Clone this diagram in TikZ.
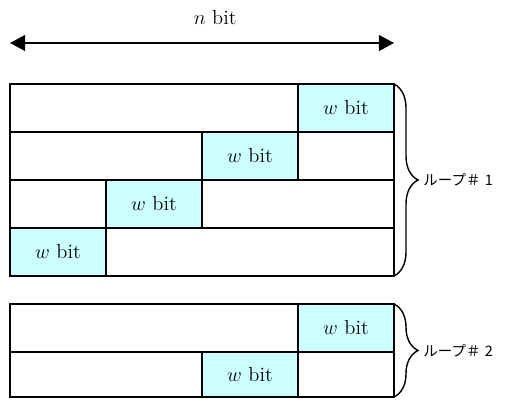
\documentclass[tikz,border=0pt]{standalone}
\usepackage{fontspec}
\newfontfamily\jpfont{Noto Sans CJK JP}
\usetikzlibrary{arrows.meta,decorations.pathreplacing}
\definecolor{wfill}{RGB}{204,255,255}
\newcommand{\wcol}{wfill}
\newcommand{\bitfont}{\fontsize{14.5}{17}\selectfont}

\begin{document}
\begin{tikzpicture}[
    wcell/.style={draw=black, line width=1pt, fill=\wcol, minimum width=2.4cm, minimum height=1.2cm, inner sep=0pt, font=\bitfont},
    grid/.style={draw=black, line width=1pt},
    loopbrace/.style={decorate, decoration={brace, amplitude=0.6cm}, line width=1pt},
    looplabel/.style={anchor=west, inner sep=0pt, font=\jpfont\fontsize{10.3}{12}\selectfont}
]
    \useasboundingbox (-0.25, 2.1) rectangle (12.425, -7.875);

    \coordinate (nl) at (0, 1.025);
    \coordinate (nr) at (9.6, 1.025);
    \draw[line width=1pt, {Triangle[length=0.38cm, width=0.4cm]}-{Triangle[length=0.38cm, width=0.4cm]}] (nl) -- (nr);
    \node[font=\bitfont] (nbit) at (5.13, 1.65) {$n$ bit};

    \node[wcell] (w11) at (8.4, -0.6) {$w$ bit};
    \node[wcell] (w12) at (6.0, -1.8) {$w$ bit};
    \node[wcell] (w13) at (3.6, -3.0) {$w$ bit};
    \node[wcell] (w14) at (1.2, -4.2) {$w$ bit};

    \draw[grid] (0, 0) rectangle (9.6, -4.8);
    \draw[grid] (0, -1.2) -- (9.6, -1.2);
    \draw[grid] (0, -2.4) -- (9.6, -2.4);
    \draw[grid] (0, -3.6) -- (9.6, -3.6);

    \node[wcell] (w21) at (8.4, -6.1) {$w$ bit};
    \node[wcell, minimum height=1.125cm] (w22) at (6.0, -7.2625) {$w$ bit};

    \draw[grid] (0, -5.5) rectangle (9.6, -7.825);
    \draw[grid] (0, -6.7) -- (9.6, -6.7);

    \coordinate (b1t) at (9.6, 0);
    \coordinate (b1b) at (9.6, -4.8);
    \coordinate (b2t) at (9.6, -5.5);
    \coordinate (b2b) at (9.6, -7.825);
    \draw[loopbrace] (b1t) -- (b1b);
    \draw[loopbrace] (b2t) -- (b2b);

    \node[looplabel] (loop1) at (10.33, -2.4) {ループ＃\hspace{0.3em}1};
    \node[looplabel] (loop2) at (10.33, -6.66) {ループ＃\hspace{0.3em}2};
\end{tikzpicture}
\end{document}
